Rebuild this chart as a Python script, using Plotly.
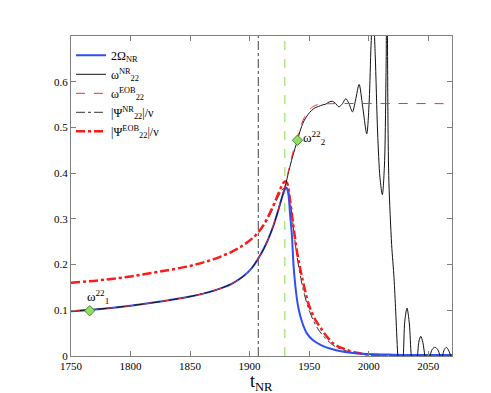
import plotly.graph_objects as go

# ---------------- data ----------------
t_omega_nr2 = [1750, 1775, 1800, 1825, 1850, 1870, 1885, 1895, 1902, 1907, 1912, 1916, 1920,
               1924, 1927, 1929.5, 1931, 1932.5, 1934, 1935.5, 1937, 1939, 1941, 1944, 1948,
               1953, 1960, 1968, 1980, 1995, 2020, 2070]
omega_nr2 = [0.098, 0.103, 0.110, 0.119, 0.130, 0.143, 0.158, 0.175, 0.193, 0.212, 0.235, 0.258, 0.285,
             0.318, 0.345, 0.364, 0.368, 0.355, 0.310, 0.265, 0.195, 0.140, 0.105, 0.075, 0.050,
             0.035, 0.024, 0.016, 0.009, 0.005, 0.003, 0.002]

t_w22_nr = [1750, 1775, 1800, 1825, 1850, 1870, 1885, 1895, 1902, 1907, 1912, 1916, 1920,
            1924, 1927, 1930, 1933, 1936, 1940.2, 1943, 1946, 1949, 1952, 1955, 1958, 1961,
            1964, 1967, 1969.6, 1972, 1975, 1978, 1980.8, 1983.5, 1986.4, 1989, 1992, 1995,
            1998.4, 2000.5, 2002, 2003.7, 2005.5, 2007.5, 2009.5, 2011.5, 2013.3, 2014.6,
            2015.4, 2016.2, 2017, 2019.3, 2021.3, 2022.7, 2024.4, 2026.5, 2029.1, 2030.3,
            2032.2, 2034.2, 2035.8, 2038.5, 2041, 2042.3, 2043.8, 2045.5, 2047.3, 2049.5,
            2051.5, 2053.5, 2055.7, 2058, 2060, 2061, 2062, 2063.5, 2065.3, 2067, 2069, 2070]
w22_nr = [0.098, 0.103, 0.110, 0.119, 0.130, 0.143, 0.158, 0.175, 0.193, 0.212, 0.235, 0.258, 0.285,
          0.318, 0.345, 0.372, 0.405, 0.435, 0.472, 0.497, 0.516, 0.528, 0.537, 0.543, 0.546, 0.549,
          0.551, 0.556, 0.557, 0.553, 0.545, 0.552, 0.563, 0.552, 0.534, 0.560, 0.594, 0.545,
          0.486, 0.560, 0.680, 0.760, 0.660, 0.490, 0.390, 0.353, 0.420, 0.620,
          0.850, 0.520, 0.380, 0.244, 0.171, 0.098, 0.003, -0.080, 0.0, 0.075,
          0.105, 0.070, 0.0, -0.050, 0.0, 0.033, 0.043, 0.030, 0.0, -0.020,
          0.0, 0.015, 0.019, 0.014, 0.0, -0.010, 0.0, 0.014, 0.019, 0.013, 0.0, -0.010]

t_w22_eob = [1750, 1775, 1800, 1825, 1850, 1870, 1885, 1895, 1902, 1907, 1912, 1916, 1920,
             1924, 1927, 1930, 1933, 1936, 1940, 1943, 1946, 1949, 1952, 1955, 1960, 1970, 2070]
w22_eob = [0.098, 0.103, 0.110, 0.119, 0.130, 0.143, 0.158, 0.175, 0.193, 0.212, 0.235, 0.258, 0.287,
           0.320, 0.348, 0.376, 0.410, 0.442, 0.478, 0.503, 0.522, 0.535, 0.543, 0.548, 0.551, 0.552, 0.552]

t_amp_nr = [1750, 1775, 1800, 1825, 1850, 1870, 1885, 1895, 1905, 1912, 1918, 1923, 1927, 1930,
            1932, 1934.5, 1937, 1940, 1943, 1946, 1950, 1955, 1960, 1970, 1980, 1990, 2000, 2070]
amp_nr = [0.160, 0.166, 0.174, 0.185, 0.197, 0.212, 0.228, 0.243, 0.263, 0.285, 0.314, 0.343, 0.362, 0.370,
          0.366, 0.330, 0.275, 0.215, 0.170, 0.135, 0.100, 0.070, 0.050, 0.024, 0.012, 0.006, 0.003, 0.001]

t_amp_eob = [1750, 1775, 1800, 1825, 1850, 1870, 1885, 1895, 1905, 1912, 1918, 1923, 1927, 1929.5,
             1931.5, 1934, 1937, 1940, 1943, 1946, 1950, 1955, 1960, 1965, 1971, 1980, 1990, 2000, 2020, 2070]
amp_eob = [0.160, 0.166, 0.174, 0.185, 0.197, 0.212, 0.228, 0.243, 0.264, 0.288, 0.318, 0.348, 0.372, 0.382,
           0.378, 0.340, 0.280, 0.225, 0.185, 0.150, 0.110, 0.080, 0.060, 0.042, 0.026, 0.015, 0.007, 0.003, 0.001, 0.0005]

vline_times = [1907.3, 1929.6]
marker_t = [1765.7, 1940.2]
marker_w = [0.099, 0.472]
marker_labels = ["ω<sup>22</sup><sub>1</sub>", "ω<sup>22</sup><sub>2</sub>"]

x_ticks = [1750, 1800, 1850, 1900, 1950, 2000, 2050]
y_ticks = [0, 0.1, 0.2, 0.3, 0.4, 0.5, 0.6]
y_tick_text = ["0", "0.1", "0.2", "0.3", "0.4", "0.5", "0.6"]
x_title = "t<sub>NR</sub>"

# ---------------- figure ----------------
SERIF = "'Liberation Serif', 'Times New Roman', Times, serif"
fig = go.Figure()

# vertical guide lines
fig.add_trace(go.Scatter(x=[vline_times[0]] * 2, y=[0, 0.7], mode="lines",
                         line=dict(color="#444444", width=1, dash="dashdot"),
                         showlegend=False, hoverinfo="skip"))
fig.add_trace(go.Scatter(x=[vline_times[1]] * 2, y=[0, 0.7], mode="lines",
                         line=dict(color="#80e040", width=1, dash="dash"),
                         showlegend=False, hoverinfo="skip"))

# curves (drawing order: amplitudes under frequencies)
fig.add_trace(go.Scatter(x=t_amp_nr, y=amp_nr, mode="lines", name="|Ψ<sup>NR</sup><sub>22</sub>|/ν",
                         line=dict(color="#333333", width=1, dash="dashdot", shape="spline"),
                         legendrank=4))
fig.add_trace(go.Scatter(x=t_amp_eob, y=amp_eob, mode="lines", name="|Ψ<sup>EOB</sup><sub>22</sub>|/ν",
                         line=dict(color="#ff1a1a", width=2.5, dash="dashdot", shape="spline"),
                         legendrank=5))
fig.add_trace(go.Scatter(x=t_omega_nr2, y=omega_nr2, mode="lines", name="2Ω<sub>NR</sub>",
                         line=dict(color="#2f4ff5", width=2, shape="spline"),
                         legendrank=1))
fig.add_trace(go.Scatter(x=t_w22_nr, y=w22_nr, mode="lines", name="ω<sup>NR</sup><sub>22</sub>",
                         line=dict(color="#111111", width=1, shape="spline", smoothing=0.8),
                         legendrank=2))
fig.add_trace(go.Scatter(x=t_w22_eob, y=w22_eob, mode="lines", name="ω<sup>EOB</sup><sub>22</sub>",
                         line=dict(color="#ff2a2a", width=1, dash="dash", shape="spline"),
                         legendrank=3))

# special points
fig.add_trace(go.Scatter(x=marker_t, y=marker_w, mode="markers",
                         marker=dict(symbol="diamond", size=8, color="#8fe060",
                                     line=dict(color="#3a6a20", width=0.8)),
                         showlegend=False, hoverinfo="skip"))
fig.add_annotation(x=marker_t[0], y=marker_w[0], text=marker_labels[0], showarrow=False,
                   xanchor="left", yanchor="bottom", xshift=-5, yshift=3,
                   font=dict(family=SERIF, size=13, color="black"))
fig.add_annotation(x=marker_t[1], y=marker_w[1], text=marker_labels[1], showarrow=False,
                   xanchor="left", yanchor="middle", xshift=4, yshift=2,
                   font=dict(family=SERIF, size=13, color="black"))

# x-axis title as annotation for exact placement
fig.add_annotation(x=0.5, y=-0.082, xref="paper", yref="paper", text=x_title, showarrow=False,
                   xanchor="center", yanchor="middle",
                   font=dict(family=SERIF, size=18, color="black"))

axis_common = dict(showline=True, linecolor="#808080", linewidth=1.2, mirror="ticks",
                   ticks="inside", ticklen=5, tickcolor="#808080", showgrid=False, zeroline=False,
                   tickfont=dict(family=SERIF, size=11, color="black"))
fig.update_xaxes(range=[1750, 2070], tickvals=x_ticks, **axis_common)
fig.update_yaxes(range=[0, 0.7], tickvals=y_ticks, ticktext=y_tick_text, **axis_common)

fig.update_layout(width=491, height=393, margin=dict(l=63, r=47, t=28, b=45, autoexpand=False),
                  paper_bgcolor="white", plot_bgcolor="white",
                  legend=dict(x=0.0, y=0.985, xanchor="left", yanchor="top",
                              bgcolor="rgba(0,0,0,0)", borderwidth=0, tracegroupgap=0,
                              itemwidth=30, font=dict(family=SERIF, size=12, color="black")),
                  font=dict(family=SERIF))

fig.write_html("out.html")
